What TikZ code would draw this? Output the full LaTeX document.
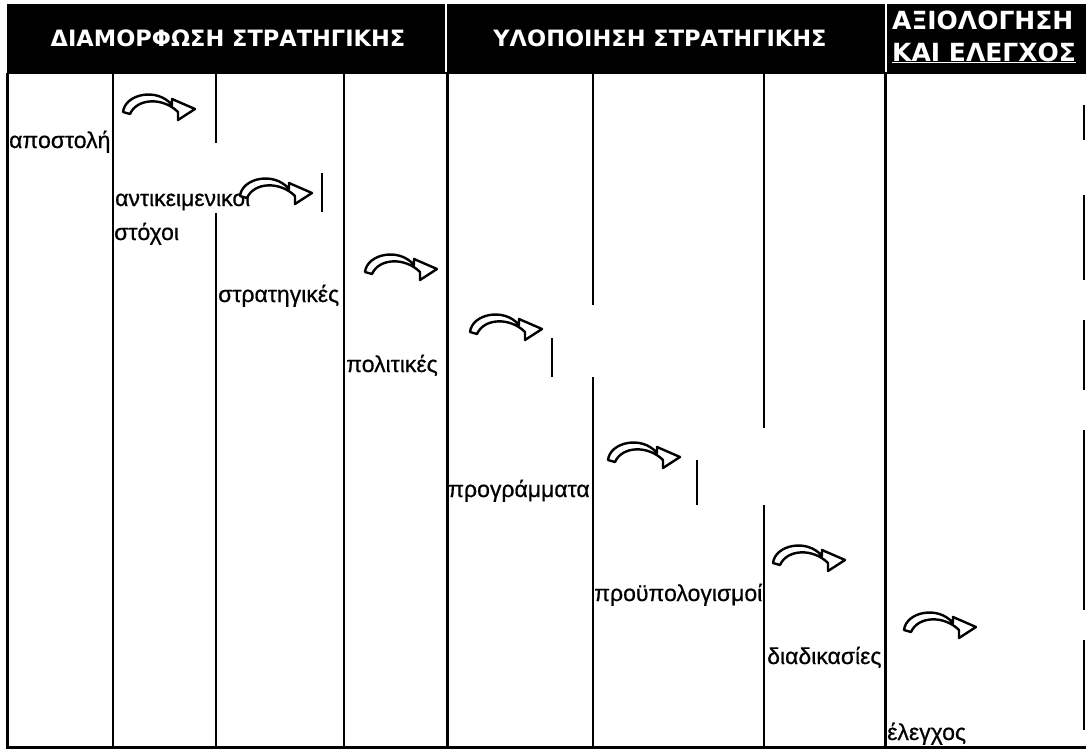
\documentclass[tikz,border=0pt]{standalone}
\usepackage{fontspec}
\setmainfont{Liberation Sans}[FakeBold=0.6]
\newfontfamily\hdrfont{DejaVu Sans}
\begin{document}
\begin{tikzpicture}[x=1pt,y=-1pt,
  lbl/.style={anchor=base west, inner sep=0pt, font=\fontsize{23}{27}\selectfont},
  hdr/.style={text=white, inner sep=0pt, font=\hdrfont\bfseries\fontsize{22.5}{26}\selectfont},
  hdrbig/.style={text=white, inner sep=0pt, font=\hdrfont\bfseries\fontsize{25}{29}\selectfont},
  col/.style={line width=2pt},
  sect/.style={line width=3pt},
  curvarrow/.pic={
    \draw[line width=2.4pt, fill=white, line join=round]
      (0,19) .. controls (2,1) and (34,-6) .. (49,12) -- (49,6) -- (72,16) -- (55,27) -- (55,19)
      .. controls (40,4) and (14,5) .. (7,21) -- cycle;
  }]
\useasboundingbox (0,0) rectangle (1086,749);
\fill[white] (0,0) rectangle (1086,749);
% header band
\fill[black] (7,4) rectangle (1086,74);
\draw[white, line width=1.5pt] (446,4) -- (446,72);
\draw[white, line width=1.2pt] (886,4) -- (886,72);
\node[hdr] (h1) at (228,38) {ΔΙΑΜΟΡΦΩΣΗ ΣΤΡΑΤΗΓΙΚΗΣ};
\node[hdr] (h2) at (660,38) {ΥΛΟΠΟΙΗΣΗ ΣΤΡΑΤΗΓΙΚΗΣ};
\node[hdrbig, anchor=west] (h3a) at (892,20) {ΑΞΙΟΛΟΓΗΣΗ};
\node[hdrbig, anchor=west] (h3b) at (892,52) {ΚΑΙ ΕΛΕΓΧΟΣ};
\draw[white, line width=1.5pt] (h3b.south west) ++(0,1) -- ([yshift=-1pt]h3b.south east);
% labels
\begin{scope}
  \clip (8,80) rectangle (113,160);
  \node[lbl] (l1) at (9,148) {αποστολή};
\end{scope}
\node[lbl] (l2) at (115,206) {αντικειμενικοί};
\node[lbl] (l2b) at (114,240) {στόχοι};
\begin{scope}
  \clip (216,270) rectangle (344,320);
  \node[lbl] (l3) at (218,302) {στρατηγικές};
\end{scope}
\begin{scope}
  \clip (344,340) rectangle (447,390);
  \node[lbl] (l4) at (346,372) {πολιτικές};
\end{scope}
\begin{scope}
  \clip (447,470) rectangle (593,515);
  \node[lbl] (l5) at (448,497) {προγράμματα};
\end{scope}
\begin{scope}
  \clip (593,570) rectangle (765,615);
  \node[lbl] (l6) at (594,601) {προϋπολογισμοί};
\end{scope}
\begin{scope}
  \clip (765,635) rectangle (885,680);
  \node[lbl] (l7) at (767,664) {διαδικασίες};
\end{scope}
\node[lbl] (l8) at (887,740) {έλεγχος};
% curved arrows
\pic at (123,93) {curvarrow};
\pic at (240,177) {curvarrow};
\pic at (365,253) {curvarrow};
\pic at (470,313) {curvarrow};
\pic at (608,441) {curvarrow};
\pic at (773,544) {curvarrow};
\pic at (904,611) {curvarrow};
% short marks beside arrows
\draw[col] (322,173) -- (322,212);
\draw[col] (552,338) -- (552,377);
\draw[col] (697,460) -- (697,505);
% column lines
\draw[sect] (7,73) -- (7,747);
\draw[col] (113,73) -- (113,747);
\draw[col] (216,73) -- (216,143);
\draw[col] (216,213) -- (216,747);
\draw[col] (344,73) -- (344,747);
\draw[sect] (447,73) -- (447,747);
\draw[col] (593,73) -- (593,305);
\draw[col] (593,377) -- (593,747);
\draw[col] (764,73) -- (764,428);
\draw[col] (764,505) -- (764,747);
\draw[sect] (885,73) -- (885,747);
\draw[col] (1084,105) -- (1084,140);
\draw[col] (1084,195) -- (1084,280);
\draw[col] (1084,320) -- (1084,390);
\draw[col] (1084,430) -- (1084,610);
\draw[col] (1084,640) -- (1084,730);
% bottom line
\draw[sect] (5.5,747) -- (1086,747);
\end{tikzpicture}
\end{document}
